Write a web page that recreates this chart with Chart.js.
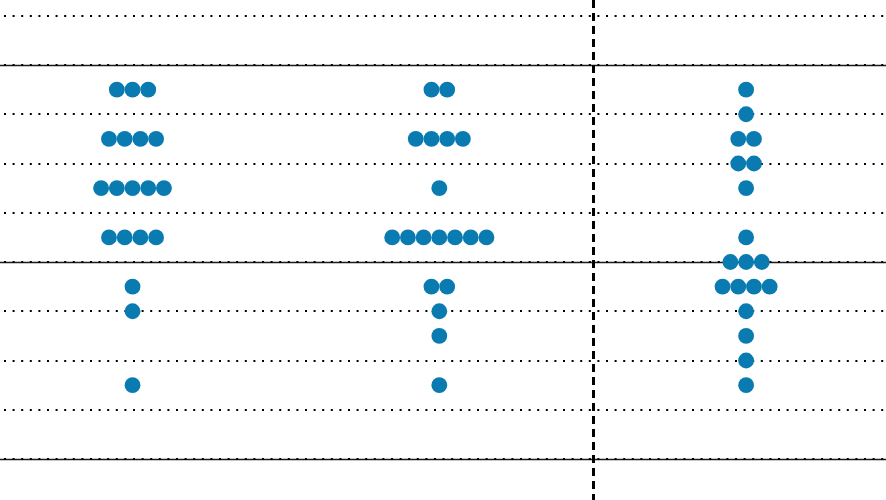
<!DOCTYPE html>
<html>
<head>
<meta charset="utf-8">
<script src="https://cdn.jsdelivr.net/npm/chart.js@4/dist/chart.umd.min.js"></script>
<style>
  html, body { margin: 0; padding: 0; background: #fff; }
  #wrap { width: 886px; height: 500px; }
</style>
</head>
<body>
<div id="wrap"><canvas id="dotChart" width="886" height="500"></canvas></div>
<script>
// groups along x (no labels shown in the picture)
const groupX = [0, 1, 2];

// one entry per dot, value on the y axis
const valuesA = [7.5, 7.5, 7.5, 6.5, 6.5, 6.5, 6.5, 5.5, 5.5, 5.5, 5.5, 5.5,
                 4.5, 4.5, 4.5, 4.5, 3.5, 3, 1.5];
const valuesB = [7.5, 7.5, 6.5, 6.5, 6.5, 6.5, 5.5,
                 4.5, 4.5, 4.5, 4.5, 4.5, 4.5, 4.5, 3.5, 3.5, 3, 2.5, 1.5];
const valuesC = [7.5, 7, 6.5, 6.5, 6, 6, 5.5, 4.5, 4, 4, 4,
                 3.5, 3.5, 3.5, 3.5, 3, 2.5, 2, 1.5];

// reference lines
const dottedLines = [0, 1, 2, 3, 4, 5, 6, 7, 8, 9];
const solidLines = [0, 4, 8];
const dividerX = [1.5];

const DOT_STEP = 0.0512; // horizontal spacing of stacked dots, in x units

function swarm(values, x) {
    const counts = {};
    values.forEach(v => counts[v] = (counts[v] || 0) + 1);
    const seen = {};
    return values.map(v => {
        const n = counts[v];
        const i = seen[v] || 0;
        seen[v] = i + 1;
        return { x: x + (i - (n - 1) / 2) * DOT_STEP, y: v };
    });
}

const linesPlugin = {
    id: 'refLines',
    beforeDatasetsDraw(chart) {
        const ctx = chart.ctx;
        const xs = chart.scales.x, ys = chart.scales.y;
        const area = chart.chartArea;
        ctx.save();

        // solid lines
        ctx.strokeStyle = '#1a1a1a';
        ctx.lineWidth = 1.5;
        ctx.setLineDash([]);
        solidLines.forEach(v => {
            const py = Math.round(ys.getPixelForValue(v)) + 0.5;
            ctx.beginPath();
            ctx.moveTo(area.left, py);
            ctx.lineTo(area.right, py);
            ctx.stroke();
        });

        // dotted lines
        ctx.strokeStyle = '#000';
        ctx.lineWidth = 2;
        ctx.setLineDash([2, 6.6]);
        dottedLines.forEach(v => {
            const py = Math.round(ys.getPixelForValue(v));
            ctx.beginPath();
            ctx.moveTo(area.left + 4, py);
            ctx.lineTo(area.right, py);
            ctx.stroke();
        });

        // vertical dashed divider
        ctx.lineWidth = 3;
        ctx.setLineDash([8, 5]);
        dividerX.forEach(v => {
            const px = Math.round(xs.getPixelForValue(v)) + 0.5;
            ctx.beginPath();
            ctx.moveTo(px, area.top);
            ctx.lineTo(px, area.bottom);
            ctx.stroke();
        });

        ctx.restore();
    }
};

const ctx = document.getElementById('dotChart').getContext('2d');
const dotChart = new Chart(ctx, {
    type: 'scatter',
    data: {
        datasets: [valuesA, valuesB, valuesC].map((vals, idx) => ({
            data: swarm(vals, groupX[idx]),
            backgroundColor: '#0a7bb0',
            borderWidth: 0,
            pointRadius: 7.9,
            pointHoverRadius: 7.9
        }))
    },
    options: {
        responsive: false,
        animation: false,
        layout: { padding: 0, autoPadding: false },
        plugins: { legend: { display: false }, tooltip: { enabled: false } },
        scales: {
            x: { type: 'linear', min: -0.432, max: 2.456, display: false },
            y: { type: 'linear', min: -0.832, max: 9.32, display: false }
        }
    },
    plugins: [linesPlugin]
});
</script>
</body>
</html>
